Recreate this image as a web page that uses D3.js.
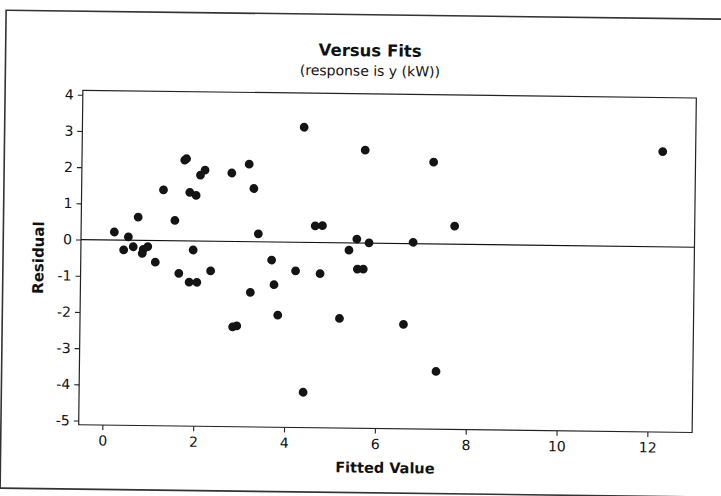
<!DOCTYPE html>
<html>
<head>
<meta charset="utf-8">
<script src="https://cdn.jsdelivr.net/npm/d3@7"></script>
<style>
  html, body { margin: 0; padding: 0; background: #ffffff; }
  svg { display: block; }
</style>
</head>
<body>
<div id="chart"></div>
<script>
// ---- data ----
const titleText = "Versus Fits";
const subtitleText = "(response is y (kW))";
const xLabel = "Fitted Value";
const yLabel = "Residual";

const fitted = [
  0.21, 0.52, 0.42, 0.63, 0.85, 0.95, 0.83, 1.12, 0.73, 1.54,
  1.64, 1.95, 1.87, 2.04, 2.34, 3.38, 3.68, 3.74, 3.22, 2.84,
  2.93, 3.83, 4.21, 1.28, 1.74, 1.78, 1.86, 2.00, 2.09, 2.19,
  2.78, 3.16, 3.27, 4.36, 5.71, 7.22, 4.63, 4.79, 7.70, 5.55,
  5.82, 6.79, 5.38, 4.75, 5.57, 5.70, 5.19, 6.60, 7.33, 4.41,
  12.26
];
const residuals = [
  0.22, 0.09, -0.27, -0.18, -0.25, -0.17, -0.36, -0.60, 0.64, 0.56,
  -0.90, -0.25, -1.14, -1.14, -0.82, 0.22, -0.50, -1.18, -1.40, -2.36,
  -2.33, -2.02, -0.79, 1.40, 2.23, 2.27, 1.34, 1.26, 1.82, 1.96,
  1.89, 2.14, 1.47, 3.18, 2.57, 2.26, 0.46, 0.47, 0.50, 0.11,
  0.01, 0.04, -0.20, -0.86, -0.72, -0.72, -2.09, -2.23, -3.52, -4.14,
  2.63
];
const xTicks = [0, 2, 4, 6, 8, 10, 12];
const yTicks = [-5, -4, -3, -2, -1, 0, 1, 2, 3, 4];
const xDomain = [-0.522, 12.985];
const yDomain = [-5.117, 4.123];
const referenceY = 0;

// ---- layout ----
const W = 721, H = 496;
const frame = { left: 80.75, right: 694.25, top: 94.15, bottom: 428.65 };
const tilt = 0.72, tiltCx = 387.5, tiltCy = 261.4;
const font = "'DejaVu Sans', Verdana, sans-serif";

const svg = d3.select("#chart").append("svg")
  .attr("width", W).attr("height", H);

svg.append("rect").attr("width", W).attr("height", H).attr("fill", "#ffffff");

const g = svg.append("g")
  .attr("transform", `rotate(${tilt},${tiltCx},${tiltCy})`);

// outer graph border
g.append("rect")
  .attr("x", 3).attr("y", 15)
  .attr("width", 740).attr("height", 478)
  .attr("fill", "none").attr("stroke", "#333").attr("stroke-width", 1.6);

const x = d3.scaleLinear().domain(xDomain).range([frame.left, frame.right]);
const y = d3.scaleLinear().domain(yDomain).range([frame.bottom, frame.top]);

// data region frame
g.append("rect")
  .attr("x", frame.left).attr("y", frame.top)
  .attr("width", frame.right - frame.left)
  .attr("height", frame.bottom - frame.top)
  .attr("fill", "none").attr("stroke", "#222").attr("stroke-width", 1.2);

// axes
const xAxis = d3.axisBottom(x).tickValues(xTicks).tickSize(5).tickPadding(4)
  .tickFormat(d3.format("d"));
const yAxis = d3.axisLeft(y).tickValues(yTicks).tickSize(5).tickPadding(4)
  .tickFormat(d => d < 0 ? "-" + Math.abs(d) : String(d));

const gx = g.append("g").attr("transform", `translate(0,${frame.bottom})`).call(xAxis);
const gy = g.append("g").attr("transform", `translate(${frame.left},0)`).call(yAxis);
[gx, gy].forEach(a => {
  a.select(".domain").remove();
  a.selectAll(".tick line").attr("stroke", "#222").attr("stroke-width", 1.1);
  a.selectAll(".tick text").attr("fill", "#111")
    .style("font-family", font).style("font-size", "14px");
});
gx.selectAll(".tick text").attr("dy", "0.82em");

// reference line at 0
g.append("line")
  .attr("x1", frame.left).attr("x2", frame.right)
  .attr("y1", y(referenceY)).attr("y2", y(referenceY))
  .attr("stroke", "#111").attr("stroke-width", 1.2);

// points
g.append("g").selectAll("circle")
  .data(fitted.map((f, i) => ({ f, r: residuals[i] })))
  .join("circle")
  .attr("cx", d => x(d.f))
  .attr("cy", d => y(d.r))
  .attr("r", 4.4)
  .attr("fill", "#141414");

// titles
g.append("text")
  .attr("x", 367.5).attr("y", 56.5)
  .attr("text-anchor", "middle")
  .style("font-family", font).style("font-weight", "bold").style("font-size", "16.5px")
  .attr("fill", "#111")
  .text(titleText);

g.append("text")
  .attr("x", 367.5).attr("y", 76)
  .attr("text-anchor", "middle")
  .style("font-family", font).style("font-size", "14px")
  .attr("fill", "#111")
  .text(subtitleText);

// axis labels
g.append("text")
  .attr("x", 387.5).attr("y", 473)
  .attr("text-anchor", "middle")
  .style("font-family", font).style("font-weight", "bold").style("font-size", "14.5px")
  .attr("fill", "#111")
  .text(xLabel);

g.append("text")
  .attr("transform", `translate(43.5,262) rotate(-90)`)
  .attr("text-anchor", "middle")
  .style("font-family", font).style("font-weight", "bold").style("font-size", "15px")
  .attr("fill", "#111")
  .text(yLabel);
</script>
</body>
</html>
